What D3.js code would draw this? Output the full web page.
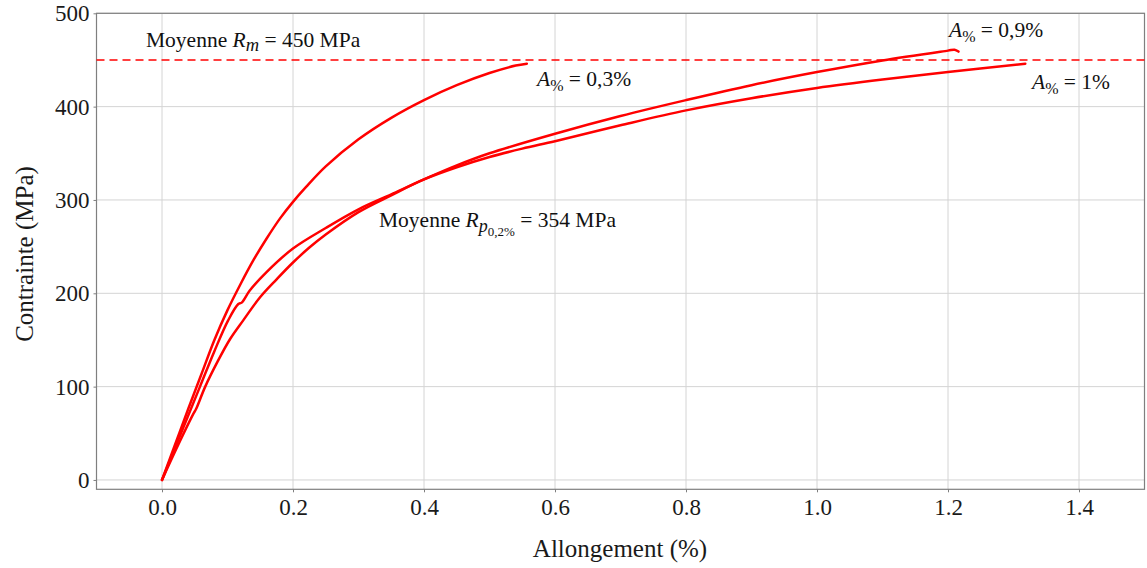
<!DOCTYPE html>
<html><head><meta charset="utf-8">
<script src="https://cdn.jsdelivr.net/npm/d3@7"></script>
<style>
html,body{margin:0;padding:0;background:#fff;}
svg{display:block;font-family:"Liberation Serif","Times New Roman",serif;}
</style></head>
<body>
<svg id="chart" width="1147" height="568"></svg>
<script>
// ---- data ----
const xTicks = [0.0, 0.2, 0.4, 0.6, 0.8, 1.0, 1.2, 1.4];
const yTicks = [0, 100, 200, 300, 400, 500];
const xTickLabels = ["0.0","0.2","0.4","0.6","0.8","1.0","1.2","1.4"];
const yTickLabels = ["0","100","200","300","400","500"];

const strainA = [0, 0.02, 0.04, 0.06, 0.08, 0.1, 0.12, 0.14, 0.16, 0.18, 0.2, 0.22, 0.25, 0.3, 0.35, 0.4, 0.45, 0.5, 0.54, 0.557];
const stressA = [0, 38, 76, 113, 150, 182, 210, 236, 259, 280, 298, 314, 336, 365, 388, 407, 423, 436, 444, 446];

const strainB = [0, 0.029, 0.058, 0.08, 0.101, 0.1165, 0.1217, 0.134, 0.16, 0.2, 0.25, 0.3, 0.35, 0.4, 0.45, 0.5, 0.6, 0.7, 0.8, 0.9, 1.0, 1.1, 1.2, 1.21, 1.216];
const stressB = [0, 50, 100, 138, 171, 188.5, 190, 203, 223, 248, 270, 290, 306, 322, 337, 350, 371, 390, 407, 423, 437, 449.5, 460, 461, 459];

const strainC = [0, 0.025, 0.048, 0.052, 0.066, 0.085, 0.104, 0.124, 0.15, 0.175, 0.2, 0.225, 0.25, 0.3, 0.35, 0.4, 0.45, 0.5, 0.55, 0.6, 0.7, 0.8, 0.9, 1.0, 1.1, 1.2, 1.318];
const stressC = [0, 38, 71, 76, 100, 127, 151, 171, 196, 215, 233, 249, 263, 287, 305, 322, 335, 346, 355, 363, 380, 396, 409, 420, 429, 437, 446];

const meanRm = 450;
const xDomain = [-0.1, 1.5];
const yDomain = [-10, 500];

const xTitle = "Allongement (%)";
const yTitle = "Contrainte (MPa)";

// ---- layout ----
const svg = d3.select("#chart");
const x = d3.scaleLinear().domain(xDomain).range([96.5, 1144.5]);
const y = d3.scaleLinear().domain(yDomain).range([489.3, 13.3]);
const RED = "#ff0000";

// grid
svg.append("g").selectAll("line").data(xTicks).join("line")
  .attr("x1", d => x(d)).attr("x2", d => x(d))
  .attr("y1", y.range()[1]).attr("y2", y.range()[0])
  .attr("stroke", "#d4d4d4").attr("stroke-width", 1);
svg.append("g").selectAll("line").data(yTicks).join("line")
  .attr("y1", d => y(d)).attr("y2", d => y(d))
  .attr("x1", x.range()[0]).attr("x2", x.range()[1])
  .attr("stroke", "#d4d4d4").attr("stroke-width", 1);

// axes
const xAxis = svg.append("g").attr("transform", `translate(0,${y.range()[0]})`)
  .call(d3.axisBottom(x).tickValues(xTicks).tickFormat((d,i) => xTickLabels[i]).tickSize(3).tickSizeOuter(0).tickPadding(6));
const yAxis = svg.append("g").attr("transform", `translate(${x.range()[0]},0)`)
  .call(d3.axisLeft(y).tickValues(yTicks).tickFormat((d,i) => yTickLabels[i]).tickSize(3).tickSizeOuter(0).tickPadding(4));
[xAxis, yAxis].forEach(g => {
  g.select(".domain").remove();
  g.selectAll(".tick line").attr("stroke", "#7f7f7f");
  g.selectAll(".tick text").attr("font-family", "Liberation Serif").attr("font-size", 23).attr("fill", "#1a1a1a");
});

// frame
svg.append("rect")
  .attr("x", x.range()[0]).attr("y", y.range()[1])
  .attr("width", x.range()[1] - x.range()[0]).attr("height", y.range()[0] - y.range()[1])
  .attr("fill", "none").attr("stroke", "#7f7f7f").attr("stroke-width", 1.2);

// reference dashed line
svg.append("line")
  .attr("x1", x(xDomain[0])).attr("x2", x(xDomain[1]))
  .attr("y1", y(meanRm)).attr("y2", y(meanRm))
  .attr("stroke", RED).attr("stroke-width", 1.6).attr("stroke-dasharray", "8,5");

// curves
const line = d3.line().x(d => x(d[0])).y(d => y(d[1])).curve(d3.curveCatmullRom.alpha(0.5));
[[strainA, stressA], [strainB, stressB], [strainC, stressC]].forEach(([xs, ys]) => {
  svg.append("path").datum(xs.map((v, i) => [v, ys[i]]))
    .attr("d", line).attr("fill", "none").attr("stroke", RED)
    .attr("stroke-width", 2.5).attr("stroke-linejoin", "round").attr("stroke-linecap", "round");
});

// rich text helper
function rich(xp, yp, parts, fs) {
  const t = svg.append("text").attr("x", xp).attr("y", yp)
    .attr("font-family", "Liberation Serif").attr("font-size", fs).attr("fill", "#111");
  parts.forEach(p => {
    const s = t.append("tspan").text(p.t);
    if (p.it) s.attr("font-style", "italic");
    if (p.dy) s.attr("dy", p.dy);
    if (p.fs) s.attr("font-size", p.fs);
  });
  return t;
}
const AF = 21.5;
rich(146, 47, [{t:"Moyenne "},{t:"R", it:true},{t:"m", it:true, dy:4, fs:18.5},{t:" = 450 MPa", dy:-4}], AF);
rich(537, 86, [{t:"A", it:true},{t:"%", dy:5, fs:16},{t:" = 0,3%", dy:-5}], AF);
rich(949, 37, [{t:"A", it:true},{t:"%", dy:5, fs:16},{t:" = 0,9%", dy:-5}], AF);
rich(1032, 89, [{t:"A", it:true},{t:"%", dy:5, fs:16},{t:" = 1%", dy:-5}], AF);
rich(379, 227, [{t:"Moyenne "},{t:"R", it:true},{t:"p", it:true, dy:5, fs:18},{t:"0,2%", dy:4, fs:13},{t:" = 354 MPa", dy:-9}], AF);

// axis titles
svg.append("text").attr("x", 620).attr("y", 557).attr("text-anchor", "middle")
  .attr("font-family", "Liberation Serif").attr("font-size", 25).attr("fill", "#1a1a1a").text(xTitle);
svg.append("text").attr("transform", "translate(33,254) rotate(-90)").attr("text-anchor", "middle")
  .attr("font-family", "Liberation Serif").attr("font-size", 25).attr("fill", "#1a1a1a").text(yTitle);
</script>
</body></html>
